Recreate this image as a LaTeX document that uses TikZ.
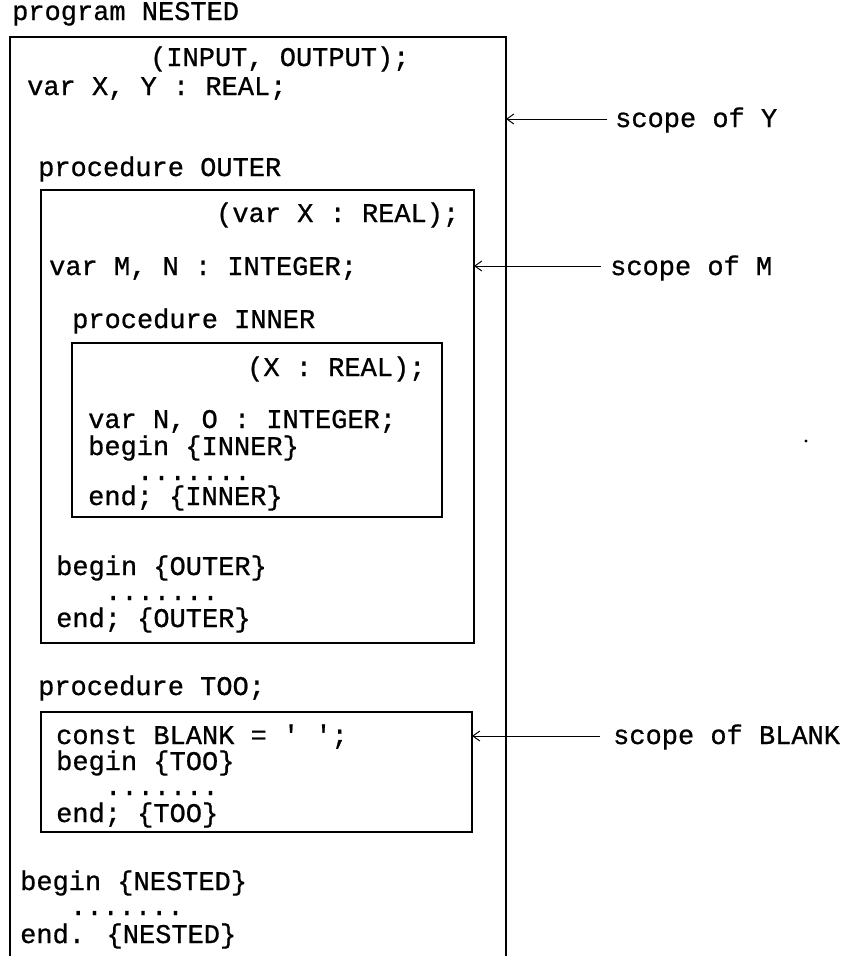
\documentclass[tikz,border=0pt]{standalone}
\usepackage{fontspec}
\newfontfamily\codefont[FakeBold=0.8]{Liberation Mono}
\usetikzlibrary{arrows.meta}
\begin{document}
\begin{tikzpicture}[x=1pt,y=-1pt,
  txt/.style={anchor=base west,inner sep=0pt,font=\codefont\fontsize{27}{27}\selectfont},
  dotline/.style={txt,text height=4pt,text depth=0pt},
  frame/.style={draw=black,line width=1.1pt},
  scopearrow/.style={draw=black,line width=1pt,-{Straight Barb[length=7pt,width=10pt]}}]
\useasboundingbox (0,0) rectangle (842,956);

% program frame (open at the bottom)
\coordinate (progBL) at (10,956);
\coordinate (progTL) at (10,37);
\coordinate (progTR) at (506,37);
\coordinate (progBR) at (506,956);
\draw[frame] (progBL) -- (progTL) -- (progTR) -- (progBR);

% procedure boxes
\coordinate (outerTL) at (41,190);
\coordinate (outerBR) at (474,643);
\draw[frame] (outerTL) rectangle (outerBR);
\coordinate (innerTL) at (72,343);
\coordinate (innerBR) at (442,517);
\draw[frame] (innerTL) rectangle (innerBR);
\coordinate (tooTL) at (41,712);
\coordinate (tooBR) at (472,832);
\draw[frame] (tooTL) rectangle (tooBR);

% program text
\node[txt,text height=16pt] (t1) at (12,20) {program NESTED};
\node[txt] (t2) at (150,66) {(INPUT, OUTPUT);};
\node[txt] (t3) at (27,95) {var X, Y : REAL;};
\node[txt] (t4) at (38,176) {procedure OUTER};
\node[txt] (t5) at (216,222) {(var X : REAL);};
\node[txt] (t6) at (49,275) {var M, N : INTEGER;};
\node[txt] (t7) at (72,328) {procedure INNER};
\node[txt] (t8) at (247,376) {(X : REAL);};
\node[txt] (t9) at (88,428) {var N, O : INTEGER;};
\node[txt] (t10) at (88,455) {begin \{INNER\}};
\node[dotline] (t11) at (137,480) {.......};
\node[txt] (t12) at (88,505) {end; \{INNER\}};
\node[txt] (t13) at (56,575) {begin \{OUTER\}};
\node[dotline] (t14) at (105,600) {.......};
\node[txt] (t15) at (56,627) {end; \{OUTER\}};
\node[txt] (t16) at (38,695) {procedure TOO;};
\node[txt] (t17) at (56,744) {const BLANK = \char"27\ \char"27;};
\node[txt] (t18) at (56,770) {begin \{TOO\}};
\node[dotline] (t19) at (105,795) {.......};
\node[txt] (t20) at (56,822) {end; \{TOO\}};
\node[txt] (t21) at (20,890) {begin \{NESTED\}};
\node[dotline] (t22) at (70,915) {.......};
\node[txt] (t23) at (20,943) {end. \{NESTED\}};

% scope labels and arrows
\node[txt] (sy) at (615,127) {scope of Y};
\node[txt] (sm) at (610,275) {scope of M};
\node[txt] (sb) at (613,744) {scope of BLANK};
\coordinate (syS) at (607,119);
\coordinate (syE) at (506,119);
\coordinate (smS) at (601,266);
\coordinate (smE) at (474,266);
\coordinate (sbS) at (600,736);
\coordinate (sbE) at (472,736);
\draw[scopearrow] (syS) -- (syE);
\draw[scopearrow] (smS) -- (smE);
\draw[scopearrow] (sbS) -- (sbE);

% stray dot
\fill (806,441) circle (1.6);
\end{tikzpicture}
\end{document}
